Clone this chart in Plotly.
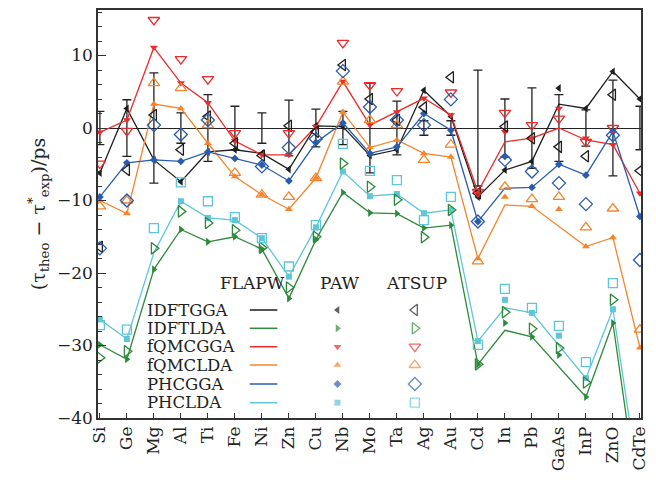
import plotly.graph_objects as go

cats = ["Si","Ge","Mg","Al","Ti","Fe","Ni","Zn","Cu","Nb","Mo","Ta","Ag","Au","Cd","In","Pb","GaAs","InP","ZnO","CdTe"]
N = None

# experimental error bars (centred on 0)
err = [2.3,3.9,7.6,2.1,4.6,3.0,2.1,3.85,2.6,2.3,6.2,3.7,1.0,1.0,8.0,4.0,5.55,4.6,2.5,6.6,3.0]

# IDFT GGA (black)
idftgga_flapw = [-6.2,2.7,-4.4,-7.4,-3.3,-3.0,-3.5,-5.7,0.3,0.2,-3.8,-3.0,5.2,1.6,-9.5,-5.8,-4.6,3.3,2.7,7.8,4.0]
idftgga_paw   = [-6.2,2.7,-4.4,-7.4,-3.3,-3.0,-3.5,-5.7,0.3,0.2,-3.8,-3.0,5.2,1.6,-9.5,-5.8,-4.6,5.5,2.7,7.8,4.0]
idftgga_atsup = [-16.4,-5.8,1.8,-3.0,1.6,-2.1,-3.8,0.3,-0.5,8.7,4.0,1.1,2.85,7.0,-9.0,0.2,-1.4,-2.6,-3.9,4.6,-5.9]
# IDFT LDA (green)
idftlda_flapw = [-29.9,-31.9,-19.5,-14.0,-15.7,-15.0,-16.7,-23.5,-15.4,-8.9,-11.7,-11.8,-13.8,-13.4,-32.6,-27.9,-28.8,N,-37.1,-26.9,-53.0]
idftlda_paw   = [-29.9,-31.9,-19.5,-14.0,-15.7,-15.0,-16.7,-23.5,-15.4,-8.9,-11.7,-11.8,-13.8,-13.4,-32.6,-26.9,-28.8,-31.3,-37.1,-26.9,N]
idftlda_atsup = [-31.7,-30.8,-16.6,-11.5,-13.1,-14.1,-16.5,-22.0,-15.0,-4.9,-8.1,-9.9,-15.05,-11.3,-32.6,-25.4,-27.7,-30.35,-35.1,-23.7,N]
# fQMC GGA (red)
fqmcgga_flapw = [-0.6,1.1,11.1,6.2,3.5,-1.8,-3.7,-3.7,0.2,6.4,0.4,2.2,4.1,1.8,-8.8,-1.9,-1.4,0.0,-1.65,-2.3,-9.0]
fqmcgga_paw   = [-0.6,1.1,11.1,6.2,3.5,-1.8,-3.7,-3.7,0.2,6.4,0.4,2.2,4.1,1.8,-8.8,-0.5,-1.4,2.7,-1.4,-2.3,-9.0]
fqmcgga_atsup = [-4.9,-0.4,14.9,9.5,6.75,-0.7,N,-0.7,N,11.75,5.9,5.1,N,4.9,-8.8,2.1,0.4,1.3,-1.9,0.0,N]
# fQMC LDA (orange)
fqmclda_flapw = [-10.0,-11.8,3.3,2.7,-2.1,-6.7,-9.2,-11.2,-6.9,2.2,-2.7,-1.65,-3.5,-4.0,-18.0,-10.6,-10.8,N,-16.35,-15.1,-30.3]
fqmclda_paw   = [-10.0,-11.8,3.3,2.7,-2.1,-6.7,-9.2,-11.2,-6.9,2.2,-2.7,-1.65,-3.5,-4.0,-18.0,-9.5,-10.8,-11.2,-16.35,-15.1,-30.3]
fqmclda_atsup = [-10.8,-10.0,6.2,5.5,0.4,-6.2,-9.2,-9.5,-6.9,6.4,1.1,0.4,-4.4,-2.3,-18.4,-8.1,-9.8,-9.5,-13.7,-11.1,-27.8]
# PHC GGA (blue)
phcgga_flapw = [-9.5,-4.8,-4.4,-4.6,-3.3,-4.2,-5.1,-7.3,-2.0,0.7,-3.5,-2.6,2.0,-0.3,-12.9,-8.3,-8.2,-5.0,-6.5,-0.5,-12.2]
phcgga_paw   = [-9.5,-4.8,-4.4,-4.6,-3.3,-4.2,-5.1,-7.3,-2.0,0.7,-3.5,-2.6,2.0,-0.3,-12.9,-3.9,-8.2,-5.0,-6.5,-0.5,-12.2]
phcgga_atsup = [-16.6,-10.0,0.4,-0.9,1.1,N,-5.3,-2.7,-1.5,7.85,2.9,1.1,0.4,3.95,-12.9,-4.4,-6.0,-7.6,-10.5,-1.0,-18.2]
# PHC LDA (cyan)
phclda_flapw = [-26.4,-29.1,-17.2,-10.1,-12.4,-12.7,-15.2,-20.5,-13.7,-6.0,-9.4,-9.1,-11.75,-11.3,-29.4,-24.8,-25.5,N,-34.5,-25.0,-50.0]
phclda_paw   = [-26.4,-29.1,N,-10.1,-12.4,-12.7,-15.2,-20.5,-13.7,-6.0,-9.4,-9.1,-11.75,-11.3,-29.4,-23.7,-25.5,-28.65,-34.5,-25.0,N]
phclda_atsup = [-27.2,-27.8,-13.8,-7.5,-10.1,-12.3,-15.2,-19.1,-13.4,-2.2,-5.9,-7.2,-12.7,-9.5,-29.9,-22.2,-24.8,-27.3,-32.3,-21.4,N]

series_names = ["IDFTGGA","IDFTLDA","fQMCGGA","fQMCLDA","PHCGGA","PHCLDA"]
colors = ["#1e1e1e","#2d8a3a","#ee2a2a","#f5842c","#2a5cae","#5ec6d6"]
symbols = ["triangle-left","triangle-right","triangle-down","triangle-up","diamond","square"]
flapw = [idftgga_flapw,idftlda_flapw,fqmcgga_flapw,fqmclda_flapw,phcgga_flapw,phclda_flapw]
paw = [idftgga_paw,idftlda_paw,fqmcgga_paw,fqmclda_paw,phcgga_paw,phclda_paw]
atsup = [idftgga_atsup,idftlda_atsup,fqmcgga_atsup,fqmclda_atsup,phcgga_atsup,phclda_atsup]

FONT = "DejaVu Serif"
fig = go.Figure()

# error bars
fig.add_trace(go.Scatter(x=cats, y=[0]*len(cats), mode="markers",
    marker=dict(size=1, color="rgba(0,0,0,0)"),
    error_y=dict(type="data", array=err, color="#222", thickness=1.3, width=4.5),
    showlegend=False, hoverinfo="skip"))

for i in range(6):
    fig.add_trace(go.Scatter(x=cats, y=flapw[i], mode="lines", connectgaps=True,
        line=dict(color=colors[i], width=1.3), showlegend=False))
for i in range(6):
    fig.add_trace(go.Scatter(x=cats, y=paw[i], mode="markers",
        marker=dict(symbol=symbols[i], color=colors[i], size=7 if symbols[i] not in ("square","diamond") else 6,
                    line=dict(width=0)), showlegend=False))
for i in range(6):
    fig.add_trace(go.Scatter(x=cats, y=atsup[i], mode="markers",
        marker=dict(symbol=symbols[i]+"-open", color=colors[i], size=10 if symbols[i] != "square" else 9,
                    line=dict(width=1.3, color=colors[i])), showlegend=False))

# ---- legend table (pixel layout converted to paper coords) ----
L, R, T, B = 98, 649, 10, 418
def px(xp): return (xp - L) / (R - L)
def py(yp): return (B - yp) / (B - T)

row_y = [310, 328.3, 346.7, 365, 384, 402.7]
label_x = 146
line_x0, line_x1 = 252, 280
paw_x, atsup_x = 341, 419.5
head_y = 283

annotations = []
shapes = []
for txt, cx in [("FLAPW", 255), ("PAW", 343), ("ATSUP", 421)]:
    annotations.append(dict(x=px(cx), y=py(head_y), xref="paper", yref="paper", text=txt,
        showarrow=False, font=dict(family=FONT, size=17, color="#222"), xanchor="center", yanchor="middle"))
for i, name in enumerate(series_names):
    annotations.append(dict(x=px(label_x), y=py(row_y[i]), xref="paper", yref="paper", text=name,
        showarrow=False, font=dict(family=FONT, size=16.5, color="#222"), xanchor="left", yanchor="middle"))
    shapes.append(dict(type="line", xref="paper", yref="paper", x0=px(line_x0), x1=px(line_x1),
        y0=py(row_y[i]), y1=py(row_y[i]), line=dict(color=colors[i], width=1.5)))

fig.add_trace(go.Scatter(x=[px(paw_x)]*6, y=[py(v) for v in row_y], xaxis="x2", yaxis="y2", mode="markers",
    marker=dict(symbol=symbols, color=colors, size=[7,7,7,7,6,6], line=dict(width=0)), showlegend=False))
fig.add_trace(go.Scatter(x=[px(atsup_x)]*6, y=[py(v) for v in row_y], xaxis="x2", yaxis="y2", mode="markers",
    marker=dict(symbol=[s+"-open" for s in symbols], color=colors, size=[10,10,10,10,10,9],
                line=dict(width=1.3, color=colors)), showlegend=False))

fig.update_layout(
    width=656, height=485,
    margin=dict(l=L, r=656-R, t=T, b=485-B),
    plot_bgcolor="white", paper_bgcolor="white",
    font=dict(family=FONT, size=17, color="#222"),
    xaxis=dict(type="category", range=[-0.07, 20.04], showline=True, mirror=True, linecolor="#333", linewidth=1.5,
               ticks="inside", ticklen=5, tickcolor="#333", tickangle=-90, showgrid=False,
               tickfont=dict(family=FONT, size=17, color="#222")),
    yaxis=dict(range=[-40, 16.28], showline=True, mirror=True, linecolor="#333", linewidth=1.5,
               tickvals=[-40,-30,-20,-10,0,10], ticks="inside", ticklen=8, tickcolor="#333",
               minor=dict(dtick=2, ticks="inside", ticklen=4, tickcolor="#333"),
               showgrid=False, zeroline=True, zerolinecolor="#222", zerolinewidth=1.2,
               tickfont=dict(family=FONT, size=17, color="#222"),
               title=dict(text="(τ<sub>theo</sub> − τ<sup>*</sup><sub>exp</sub>)/ps", standoff=6,
                          font=dict(family=FONT, size=19))),
    xaxis2=dict(overlaying="x", range=[0, 1], visible=False),
    yaxis2=dict(overlaying="y", range=[0, 1], visible=False),
    annotations=annotations, shapes=shapes,
)
fig.write_html("out.html")
